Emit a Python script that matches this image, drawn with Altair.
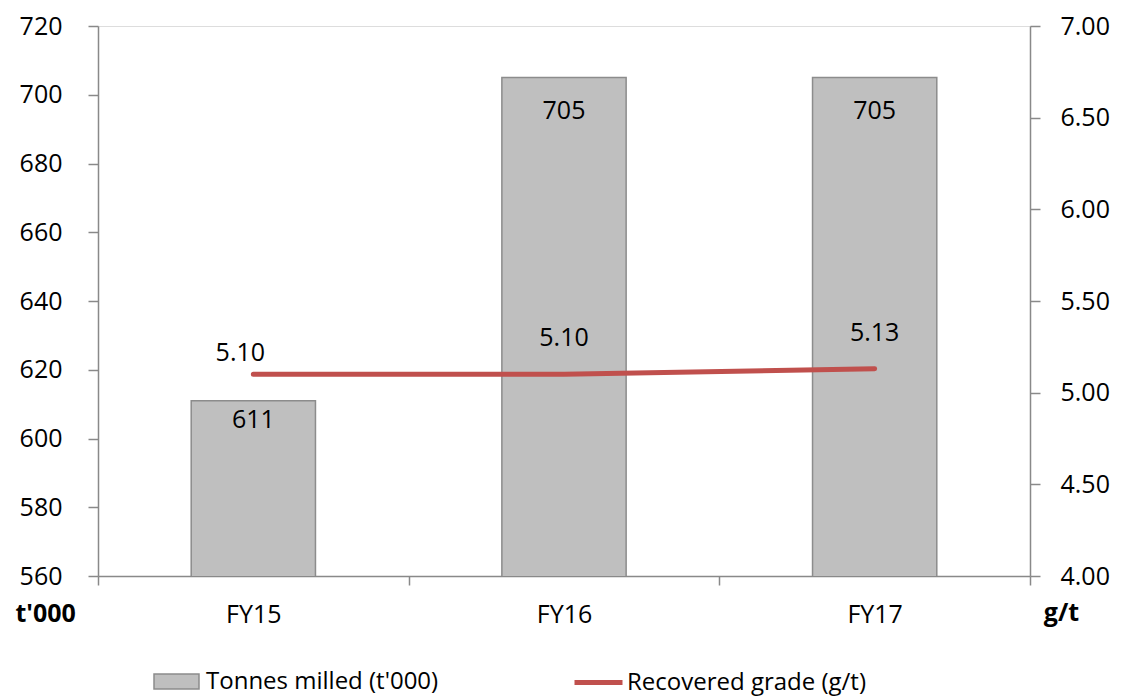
import altair as alt
import pandas as pd

categories = ["FY15", "FY16", "FY17"]
tonnes = [611, 705, 705]
grade = [5.10, 5.10, 5.13]
tonnes_labels = ["611", "705", "705"]
grade_labels = ["5.10", "5.10", "5.13"]
bar_series = "Tonnes milled (t'000)"
line_series = "Recovered grade (g/t)"

df = pd.DataFrame({
    "cat": categories,
    "tonnes": tonnes,
    "grade": grade,
    "tlab": tonnes_labels,
    "glab": grade_labels,
    "bs": [bar_series] * 3,
    "ls": [line_series] * 3,
})

FONT = "Open Sans"
FS = 25
AX = "#898989"

x = alt.X("cat:N", sort=categories,
          scale=alt.Scale(paddingInner=0, paddingOuter=0),
          axis=alt.Axis(title=None, labelAngle=0, tickBand="extent", tickSize=9,
                        labelPadding=17, domainColor=AX, tickColor=AX,
                        domainWidth=1.5, tickWidth=1.5, labelFont=FONT,
                        labelFontSize=FS, labelColor="#000"))

yl = alt.Y("tonnes:Q", scale=alt.Scale(domain=[560, 720], nice=False, zero=False),
           axis=alt.Axis(orient="left", values=list(range(560, 721, 20)), grid=False,
                         tickSize=10, labelPadding=26, domainColor=AX, tickColor=AX,
                         domainWidth=1.5, tickWidth=1.5, labelFont=FONT, labelFontSize=FS,
                         labelColor="#000", title="t'000", titleAngle=0, titleX=-83,
                         titleY=587, titleAlign="left", titleBaseline="middle",
                         titleFont=FONT, titleFontSize=FS, titleFontWeight="bold",
                         titleColor="#000"))

yr = alt.Y("grade:Q", scale=alt.Scale(domain=[4, 7], nice=False, zero=False),
           axis=alt.Axis(orient="right", values=[4, 4.5, 5, 5.5, 6, 6.5, 7], format=".2f",
                         grid=False, tickSize=10, labelPadding=20, domainColor=AX,
                         tickColor=AX, domainWidth=1.5, tickWidth=1.5, labelFont=FONT,
                         labelFontSize=FS, labelColor="#000", title="g/t", titleAngle=0,
                         titleX=31, titleY=586, titleAlign="center",
                         titleBaseline="middle", titleFont=FONT, titleFontSize=FS,
                         titleFontWeight="bold", titleColor="#000"))

base = alt.Chart(df)

bars = base.mark_bar(width=alt.RelativeBandSize(0.4), stroke="#8c8c8c", strokeWidth=1.5,
                     clip=True).encode(
    x=x, y=yl,
    fill=alt.Fill("bs:N", scale=alt.Scale(domain=[bar_series], range=["#bfbfbf"]),
                  legend=alt.Legend(title=None, orient="none", legendX=55, legendY=632,
                                    symbolType="M-1,-0.333H1V0.333H-1Z", symbolSize=2025,
                                    symbolStrokeColor="#8c8c8c", symbolStrokeWidth=1.5,
                                    labelFont=FONT, labelFontSize=24, labelColor="#000",
                                    labelOffset=6, labelLimit=500, padding=0)),
)

bar_text_a = base.mark_text(font=FONT, fontSize=FS, baseline="middle", dy=19, color="#000").encode(
    x=x, y=yl, text="tlab:N").transform_filter(alt.datum.cat == "FY15")
bar_text_b = base.mark_text(font=FONT, fontSize=FS, baseline="middle", dy=33, color="#000").encode(
    x=x, y=yl, text="tlab:N").transform_filter(alt.datum.cat != "FY15")

line = base.mark_line(strokeWidth=5, strokeCap="round").encode(
    x=x, y=yr,
    stroke=alt.Stroke("ls:N", scale=alt.Scale(domain=[line_series], range=["#c0504d"]),
                      legend=alt.Legend(title=None, orient="none", legendX=474, legendY=630,
                                        symbolType="stroke", symbolSize=2304,
                                        symbolStrokeWidth=5, labelFont=FONT,
                                        labelFontSize=24, labelColor="#000",
                                        labelOffset=2, labelLimit=500, padding=0)),
)

line_text_a = base.mark_text(font=FONT, fontSize=FS, baseline="middle", dx=-13, dy=-21, color="#000").encode(
    x=x, y=yr, text="glab:N").transform_filter(alt.datum.cat == "FY15")
line_text_b = base.mark_text(font=FONT, fontSize=FS, baseline="middle", dy=-36, color="#000").encode(
    x=x, y=yr, text="glab:N").transform_filter(alt.datum.cat != "FY15")

left = alt.layer(bars, bar_text_a, bar_text_b)
right = alt.layer(line, line_text_a, line_text_b)

chart = alt.layer(left, right).resolve_scale(y="independent").properties(
    width=932, height=550,
    autosize=alt.AutoSizeParams(type="none"),
    padding={"left": 90, "top": 18, "right": 83, "bottom": 160},
).configure_view(stroke=None).configure(background="white")

chart.save("out.html", embed_options={"renderer": "svg", "actions": False})
